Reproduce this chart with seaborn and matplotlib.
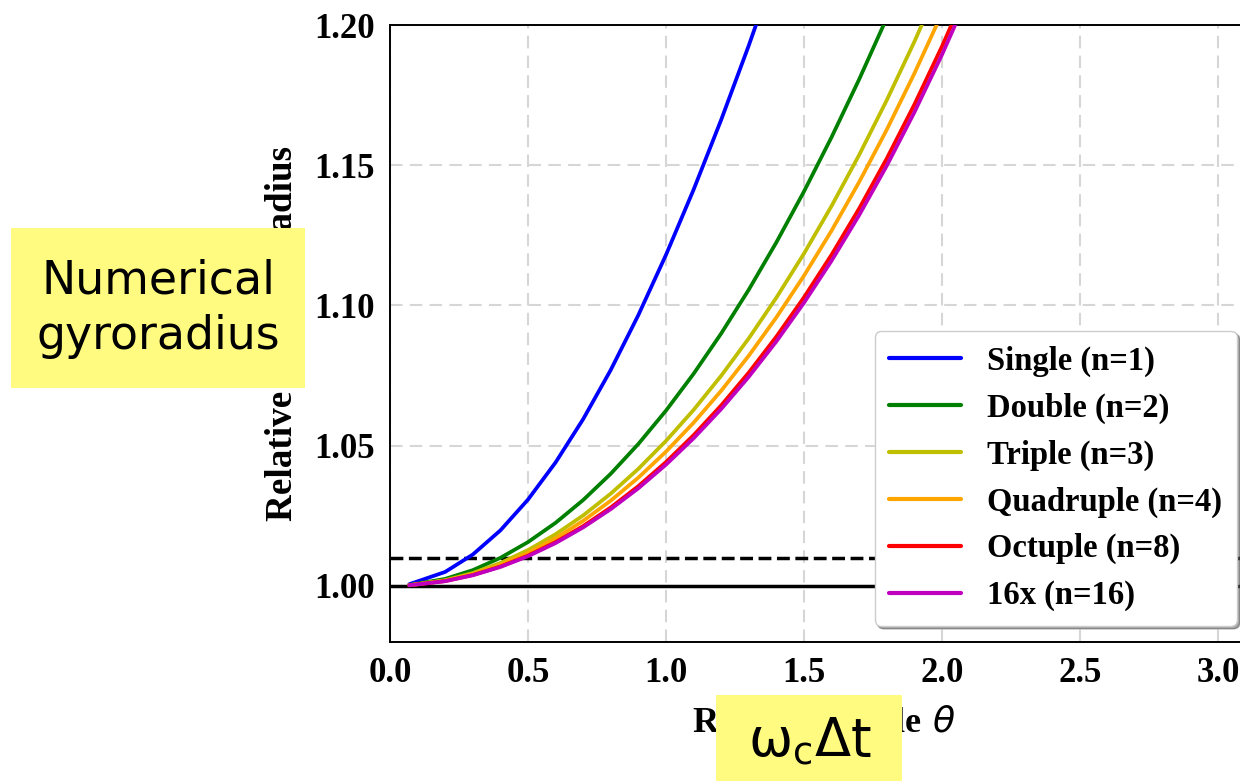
import numpy as np
import pandas as pd
import matplotlib
matplotlib.use("Agg")
import matplotlib.pyplot as plt
from matplotlib.patches import Rectangle
import seaborn as sns

# ---- data ----
theta = [0.07, 0.2, 0.3, 0.4, 0.5, 0.6, 0.7, 0.8, 0.9, 1.0, 1.1,
         1.2, 1.3, 1.4, 1.5, 1.6, 1.7, 1.8, 1.9, 2.0, 2.1, 2.2]

single = [1.00061, 1.00499, 1.01119, 1.01980, 1.03078, 1.04403, 1.05948,
          1.07703, 1.09659, 1.11803, 1.14127, 1.16619, 1.19269, 1.22066,
          1.25000, 1.28062, 1.31244, 1.34536, 1.37931, 1.41421, 1.45000, 1.48661]
double = [1.000306, 1.0025, 1.005625, 1.01, 1.015625, 1.0225, 1.030625,
          1.04, 1.050625, 1.0625, 1.075625, 1.09, 1.105625, 1.1225,
          1.140625, 1.16, 1.180625, 1.2025, 1.225625, 1.25, 1.275625, 1.3025]
triple = [1.000250, 1.002038, 1.004590, 1.008168, 1.012779, 1.018432,
          1.025137, 1.032906, 1.041752, 1.051692, 1.062744, 1.074928,
          1.088266, 1.102781, 1.118500, 1.135455, 1.153675, 1.173189,
          1.194039, 1.216261, 1.239898, 1.264996]
quadruple = [1.000230, 1.001876, 1.004227, 1.007525, 1.011780, 1.017002,
             1.023205, 1.030404, 1.038618, 1.047867, 1.058176, 1.069572,
             1.082084, 1.095745, 1.110590, 1.126667, 1.144011, 1.162675,
             1.182705, 1.204167, 1.227117, 1.251622]
octuple = [1.000211, 1.001721, 1.003877, 1.006905, 1.010815, 1.015620,
           1.021336, 1.027982, 1.035580, 1.044156, 1.053739, 1.064364,
           1.076071, 1.088892, 1.102880, 1.118088, 1.134575, 1.152401,
           1.171635, 1.192361, 1.214662, 1.238631]
sixteen = [1.000205, 1.001682, 1.003790, 1.006752, 1.010574, 1.015276,
           1.020868, 1.027377, 1.034818, 1.043226, 1.052628, 1.063056,
           1.074558, 1.087167, 1.100938, 1.115929, 1.132198, 1.149813,
           1.168847, 1.189387, 1.211527, 1.235368]

labels = ["Single (n=1)", "Double (n=2)", "Triple (n=3)",
          "Quadruple (n=4)", "Octuple (n=8)", "16x (n=16)"]
series = [single, double, triple, quadruple, octuple, sixteen]
colors = ["#0000ff", "#008000", "#bfbf00", "#ffa500", "#ff0000", "#bf00bf"]

xticks = [0.0, 0.5, 1.0, 1.5, 2.0, 2.5, 3.0]
yticks = [1.00, 1.05, 1.10, 1.15, 1.20]

df = pd.concat([pd.DataFrame({"theta": theta, "ratio": s, "method": l})
                for s, l in zip(series, labels)], ignore_index=True)

# ---- style ----
sns.set_style("white")
plt.rcParams["font.family"] = ["Liberation Serif", "DejaVu Serif"]
plt.rcParams["font.weight"] = "bold"
plt.rcParams["text.color"] = "black"
plt.rcParams["axes.labelcolor"] = "black"
plt.rcParams["xtick.color"] = "black"
plt.rcParams["ytick.color"] = "black"
plt.rcParams["mathtext.fontset"] = "custom"
plt.rcParams["mathtext.rm"] = "Liberation Serif:weight=bold"
plt.rcParams["mathtext.bf"] = "Liberation Serif:weight=bold"
plt.rcParams["mathtext.it"] = "DejaVu Sans:style=italic:weight=normal"

fig = plt.figure(figsize=(12.4, 7.81), dpi=100)
ax = fig.add_axes([390 / 1240, 1 - 642 / 781, 867 / 1240, 617 / 781])

ax.grid(True, color="#d6d6d6", linestyle=(0, (6, 3.5)), linewidth=1.5, zorder=0)
ax.set_axisbelow(True)

ax.axhline(1.0, color="black", lw=2.5, zorder=1)
ax.axhline(1.01, color="black", lw=2.5, ls="--", zorder=1)

for lab, col in zip(labels, colors):
    sub = df[df["method"] == lab]
    sns.lineplot(data=sub, x="theta", y="ratio", color=col, lw=2.7,
                 label=lab, ax=ax, zorder=3,
                 errorbar=None, sort=False)

ax.set_xlim(0, np.pi)
ax.set_ylim(0.98, 1.20)
ax.set_xticks(xticks)
ax.set_yticks(yticks)
ax.set_xticklabels([f"{v:.1f}" for v in xticks])
ax.set_yticklabels([f"{v:.2f}" for v in yticks])
ax.tick_params(axis="both", labelsize=25, length=6, width=1.4,
               direction="out", color="black", pad=5)
for t in ax.get_xticklabels() + ax.get_yticklabels():
    t.set_fontweight("bold")

for side in ["left", "bottom", "top", "right"]:
    ax.spines[side].set_color("black")
    ax.spines[side].set_linewidth(1.4)

ax.set_xlabel(r"$\mathrm{Rotation\ angle}\ \theta$", fontsize=26,
              fontweight="normal", labelpad=9)
ax.set_ylabel("Relative Larmor radius", fontsize=26.7, fontweight="bold",
              labelpad=10)

leg = ax.legend(loc="lower right",
                bbox_to_anchor=(1237 / 1240, 1 - 626 / 781),
                bbox_transform=fig.transFigure, borderaxespad=0,
                prop={"family": "Liberation Serif", "weight": "bold", "size": 23.5},
                handlelength=2.2, handletextpad=0.8, labelspacing=0.48,
                borderpad=0.45, frameon=True, fancybox=True, shadow=True,
                framealpha=1.0, edgecolor="#cccccc")
for h in leg.get_lines():
    h.set_linewidth(3)
leg.set_zorder(5)

# ---- yellow overlay boxes ----
yel = "#fffb80"
fig.patches.append(Rectangle((11 / 1240, 1 - 388 / 781), 294 / 1240, 160 / 781,
                             transform=fig.transFigure, facecolor=yel,
                             edgecolor="none", zorder=10))
fig.text(158 / 1240, 1 - 309 / 781, "Numerical\ngyroradius",
         ha="center", va="center", fontsize=33, family="DejaVu Sans",
         fontweight="normal", linespacing=1.3, zorder=11, color="black")

fig.patches.append(Rectangle((716 / 1240, 0), 186 / 1240, 86 / 781,
                             transform=fig.transFigure, facecolor=yel,
                             edgecolor="none", zorder=10))
fig.text(810 / 1240, 1 - 741 / 781, r"$\mathregular{\omega_c\Delta t}$",
         ha="center", va="center", fontsize=38, family="DejaVu Sans",
         fontweight="normal", zorder=11, color="black")

fig.savefig("out.png", dpi=100)
